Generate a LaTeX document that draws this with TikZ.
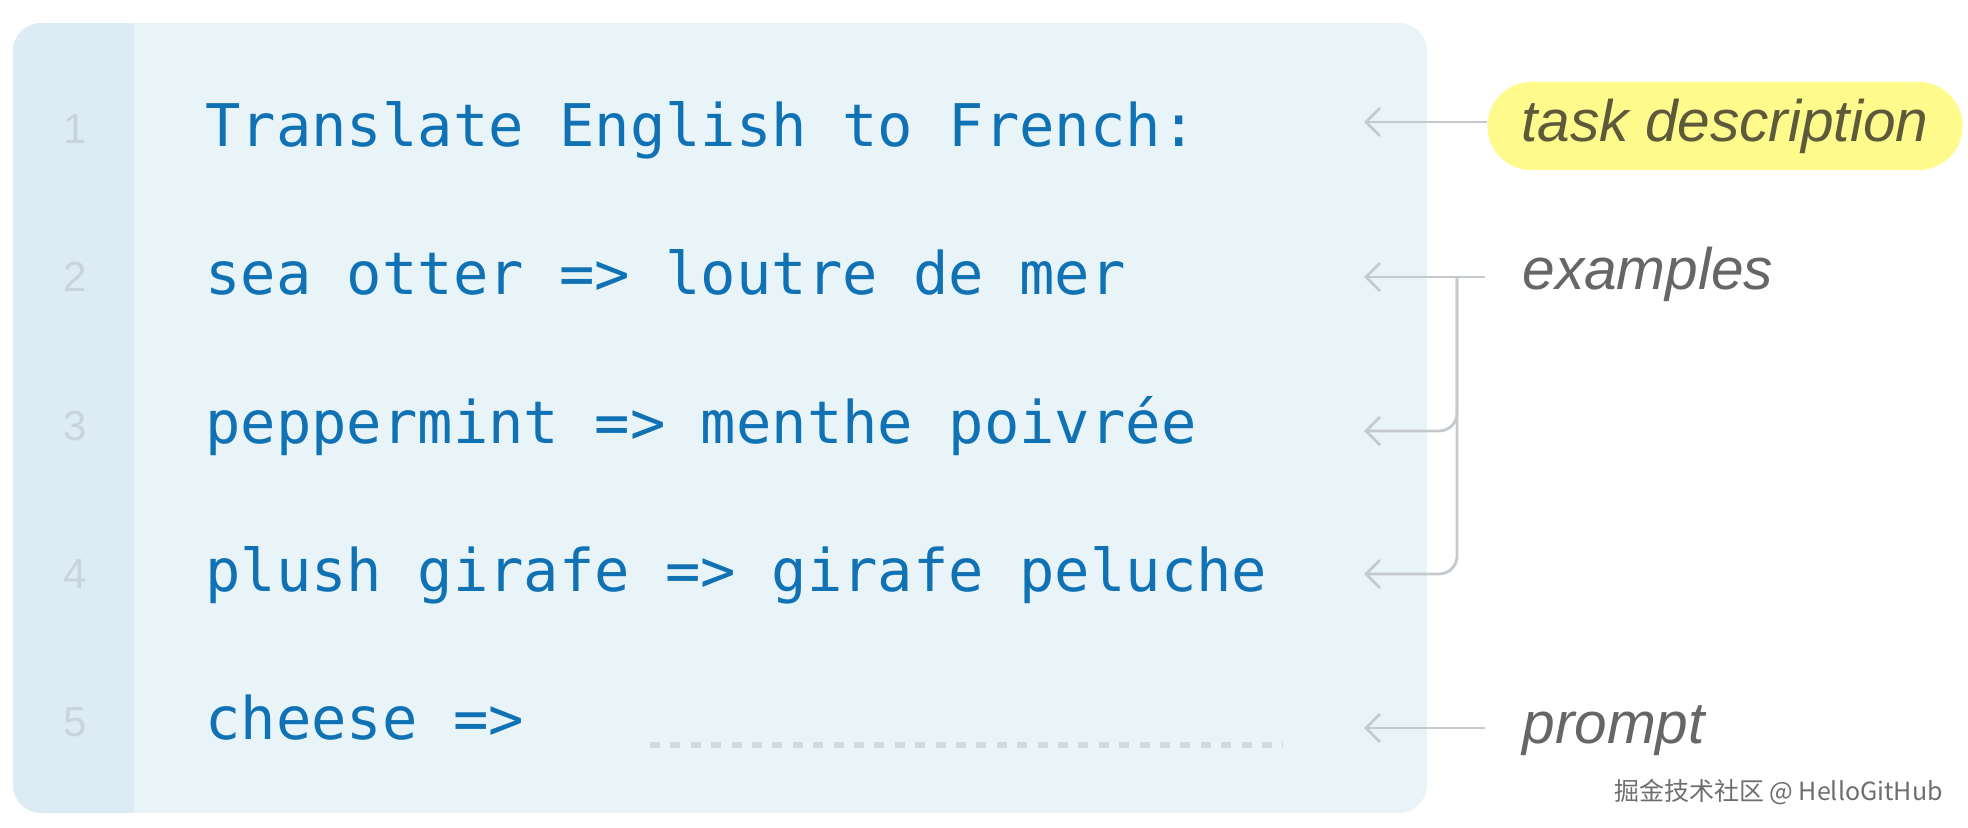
\documentclass[tikz,border=0pt]{standalone}
\usepackage{fontspec}
\setmainfont{Liberation Sans}
\newfontfamily\codefont{DejaVu Sans Mono}
\newfontfamily\cjkfont{Noto Sans CJK SC}
\usepackage{tikz}
\usetikzlibrary{positioning,arrows.meta,calc}

\definecolor{panelbg}{RGB}{232,244,248}
\definecolor{gutterbg}{RGB}{221,236,244}
\definecolor{codeblue}{RGB}{16,114,181}
\definecolor{numgray}{RGB}{200,212,219}
\definecolor{pointgray}{RGB}{195,201,204}
\definecolor{labelgray}{RGB}{102,102,102}
\definecolor{hlyellow}{RGB}{255,250,140}
\definecolor{hltext}{RGB}{92,90,58}
\definecolor{blankgray}{RGB}{208,218,223}
\definecolor{markgray}{RGB}{110,110,110}

\begin{document}
\begin{tikzpicture}[
    x=0.5pt, y=-0.5pt,
    codeline/.style={anchor=base west, inner sep=0pt, text=codeblue,
                     font={\codefont\fontsize{29.4pt}{35pt}\selectfont}},
    numstyle/.style={anchor=base, inner sep=0pt, text=numgray,
                     font={\fontsize{21pt}{25pt}\selectfont}},
    tag/.style={anchor=base west, inner sep=0pt, text=labelgray,
                font={\itshape\fontsize{29.3pt}{35pt}\selectfont}},
    hlbox/.style={anchor=west, fill=hlyellow, text=hltext, rounded corners=22pt,
                  minimum height=44pt, inner xsep=17pt,
                  font={\itshape\fontsize{29.3pt}{35pt}\selectfont}},
    pointer/.style={-{Straight Barb[length=7pt, width=14pt]}, line width=1.4pt,
                    draw=pointgray},
    blank/.style={line width=3pt, draw=blankgray, dash pattern=on 5pt off 5.2pt},
]
    \useasboundingbox (0,0) rectangle (1968,828);

    % Editor panel with line-number gutter
    \begin{scope}
        \clip[rounded corners=14pt] (13,23) rectangle (1427,813);
        \fill[panelbg] (13,23) rectangle (1427,813);
        \fill[gutterbg] (13,23) rectangle (134,813);
    \end{scope}

    % Code lines
    \foreach \i/\txt in {1/{Translate English to French:},
                         2/{sea otter => loutre de mer},
                         3/{peppermint => menthe poivrée},
                         4/{plush girafe => girafe peluche},
                         5/{cheese =>}} {
        \node[numstyle] (n\i) at (75,{144+148*(\i-1)}) {\i};
        \node[codeline] (c\i) at (205,{147+148*(\i-1)}) {\txt};
    }
    \coordinate (blankL) at (650,745);
    \coordinate (blankR) at (1283,745);
    \draw[blank] (blankL) -- (blankR);

    % Labels
    \node[hlbox] (task) at (1487,126) {task description};
    \node[tag] (examples) at (1522,290) {examples};
    \node[tag] (prompt) at (1522,743) {prompt};

    % Arrow ends
    \coordinate (tipcol) at (1364,0);
    \coordinate (spine)  at (1457,0);
    \coordinate (exstart) at (1485,277);
    \coordinate (prstart) at (1485,728);
    \coordinate (tip3) at (1364,431);
    \coordinate (tip4) at (1364,574);

    % Arrows
    \draw[pointer] ($(task.west)+(0,-4)$) -- ($(task.west -| tipcol)+(0,-4)$);
    \draw[pointer] (exstart) -- (exstart -| tipcol);
    \draw[pointer, rounded corners=9pt] (exstart -| spine) |- (tip3);
    \draw[pointer, rounded corners=9pt] (exstart -| spine) |- (tip4);
    \draw[pointer] (prstart) -- (prstart -| tipcol);

    % Watermark
    \node[anchor=base east, inner sep=0pt, text=markgray,
          font={\cjkfont\fontsize{12.5pt}{15pt}\selectfont}] (mark) at (1943,800)
          {掘金技术社区 @ HelloGitHub};
\end{tikzpicture}
\end{document}
